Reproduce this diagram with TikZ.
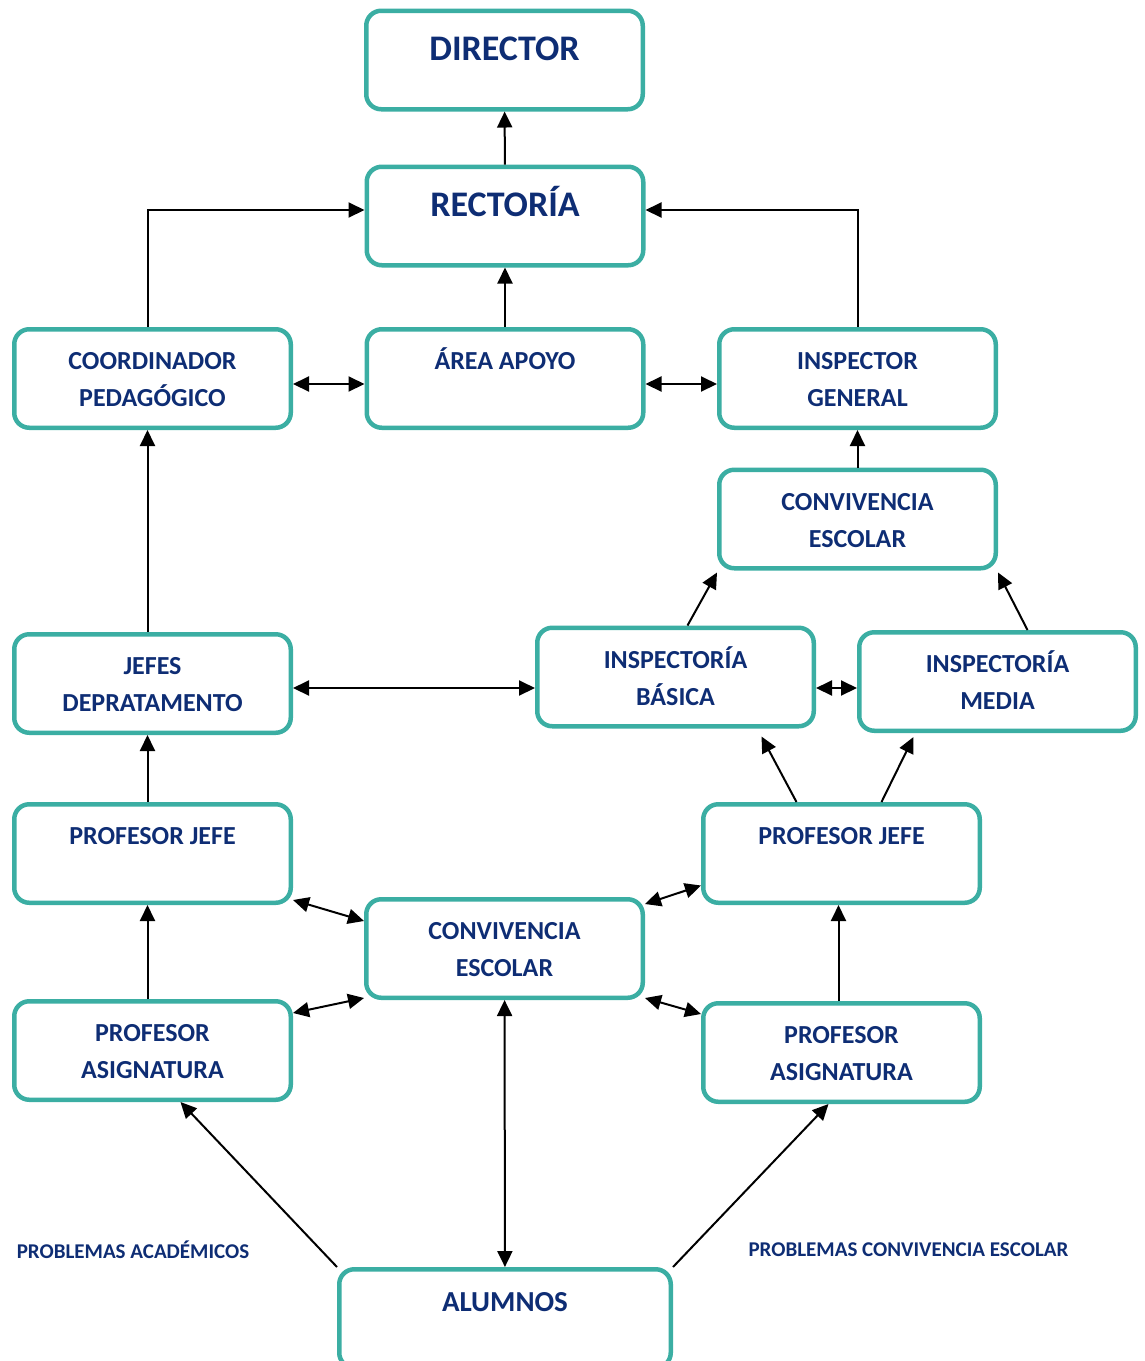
\documentclass[tikz,border=0pt]{standalone}
\usepackage{fontspec}
\setmainfont{Carlito}
\usepackage{tikz}
\usetikzlibrary{arrows.meta}
\definecolor{boxteal}{RGB}{59,174,163}
\definecolor{textblue}{RGB}{14,45,116}
\tikzset{unit/.style={draw=boxteal, line width=4.5pt, rounded corners=15pt, minimum width=276.5pt, minimum height=98.5pt, inner sep=0, outer sep=2.25pt, align=center, text=textblue, font=\fontsize{26}{37}\selectfont\bfseries, text height=56pt, text depth=0pt}}
\tikzset{head unit/.style={unit, font=\fontsize{36}{40}\selectfont\bfseries, text height=20pt, text depth=20pt}}
\tikzset{note/.style={text=textblue, font=\fontsize{21}{25}\selectfont\bfseries, inner sep=0}}
\tikzset{link/.style={draw, line width=2pt, >={Triangle[length=16pt,width=15pt]}}}

\begin{document}
\begin{tikzpicture}[x=1pt, y=-1pt]
  \useasboundingbox (0, 0) rectangle (1144, 1361);

  \node[head unit] at (504.5, 60) (dir) {DIRECTOR};
  \node[head unit] at (505, 216) (rect) {RECTORÍA};

  \node[unit] at (152.5, 378.5) (coord) {COORDINADOR\\PEDAGÓGICO};
  \node[unit] at (505, 378.5) (area) {ÁREA APOYO\\~};
  \node[unit] at (857.5, 378.5) (insp) {INSPECTOR\\GENERAL};
  \node[unit] at (857.5, 519) (convT) {CONVIVENCIA\\ESCOLAR};

  \node[unit] at (152.5, 683.5) (jefes) {JEFES\\DEPRATAMENTO};
  \node[unit] at (675.5, 677) (ibas) {INSPECTORÍA\\BÁSICA};
  \node[unit] at (997.5, 681.5) (imed) {INSPECTORÍA\\MEDIA};

  \node[unit] at (152.5, 853.5) (pjL) {PROFESOR JEFE\\~};
  \node[unit] at (841.5, 853.5) (pjR) {PROFESOR JEFE\\~};
  \node[unit] at (504.5, 948.5) (convM) {CONVIVENCIA\\ESCOLAR};
  \node[unit] at (152.5, 1050.5) (paL) {PROFESOR\\ASIGNATURA};
  \node[unit] at (841.5, 1052.5) (paR) {PROFESOR\\ASIGNATURA};

  \node[head unit, minimum width=331.5pt, font=\fontsize{29}{34}\selectfont\bfseries, text height=12pt, text depth=27pt] at (505, 1318.5) (alum) {ALUMNOS};

  \node[note] at (133, 1250) (probA) {PROBLEMAS ACADÉMICOS};
  \node[note] at (908.5, 1250) (probC) {PROBLEMAS CONVIVENCIA ESCOLAR};

  % upper part
  \draw[link,->] (rect) -- (dir);
  \draw[link,->] (area) -- (rect);
  \draw[link,->] ([xshift=-5pt]coord.north) |- ([yshift=6pt]rect.west);
  \draw[link,->] (insp.north) |- ([yshift=6pt]rect.east);
  \draw[link,<->] ([yshift=-5.5pt]coord.east) -- ([yshift=-5.5pt]area.west);
  \draw[link,<->] ([yshift=-5.5pt]area.east) -- ([yshift=-5.5pt]insp.west);
  \draw[link,->] (convT) -- (insp);
  \draw[link,->] ([xshift=12pt]ibas.north) -- ([yshift=-2pt]convT.south west);
  \draw[link,->] ([xshift=30pt]imed.north) -- ([yshift=-2pt]convT.south east);
  \draw[link,->] ([xshift=-5pt]jefes.north) -- ([xshift=-5pt]coord.south);

  \coordinate (mid) at ([yshift=-4.5pt]jefes.east);
  \draw[link,<->] (mid) -- (mid -| ibas.west);
  \draw[link,<->] (ibas.east |- mid) -- (imed.west |- mid);

  % lower part
  \draw[link,->] ([xshift=-5pt]pjL.north) -- ([xshift=-5pt]jefes.south);
  \draw[link,->] ([xshift=-45pt]pjR.north) -- ([xshift=86pt,yshift=-8pt]ibas.south);
  \draw[link,->] ([xshift=40pt]pjR.north) -- ([xshift=-84pt,yshift=-4pt]imed.south);
  \draw[link,->] ([xshift=-5pt]paL.north) -- ([xshift=-5pt]pjL.south);
  \draw[link,->] ([xshift=-3pt]paR.north) -- ([xshift=-3pt]pjR.south);

  \draw[link,<->] ([yshift=5pt]pjL.south east) -- ([yshift=-24pt]convM.north west);
  \draw[link,<->] ([yshift=-14pt]paL.north east) -- ([yshift=2pt]convM.south west);
  \draw[link,<->] ([yshift=-7pt]convM.north east) -- ([yshift=-32pt]pjR.west);
  \draw[link,<->] ([yshift=2pt]convM.south east) -- ([yshift=-13pt]paR.north west);
  \draw[link,<->] (convM) -- (alum);

  \draw[link,->] (alum.north west) -- ([xshift=28pt]paL.south);
  \draw[link,->] (alum.north east) -- ([xshift=-13pt]paR.south);
\end{tikzpicture}
\end{document}
